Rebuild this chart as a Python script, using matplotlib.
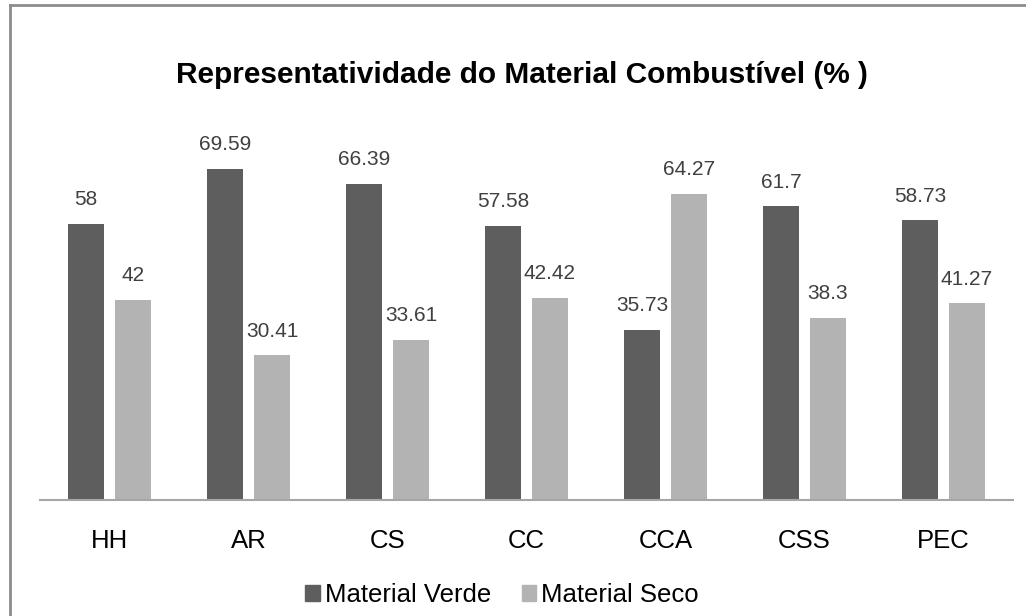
import matplotlib.pyplot as plt
import numpy as np
from matplotlib.lines import Line2D
from matplotlib.patches import Patch

plt.rcParams["font.family"] = ["Liberation Sans", "DejaVu Sans"]

categories = ["HH", "AR", "CS", "CC", "CCA", "CSS", "PEC"]
verde = [58, 69.59, 66.39, 57.58, 35.73, 61.7, 58.73]
seco = [42, 30.41, 33.61, 42.42, 64.27, 38.3, 41.27]
verde_labels = ["58", "69.59", "66.39", "57.58", "35.73", "61.7", "58.73"]
seco_labels = ["42", "30.41", "33.61", "42.42", "64.27", "38.3", "41.27"]

DARK = "#5e5e5e"
LIGHT = "#b3b3b3"

fig = plt.figure(figsize=(10.26, 6.16), dpi=100)
ax = fig.add_axes([40 / 1026, 116 / 616, 973 / 1026, 381 / 616])

x = np.arange(len(categories))
w = 0.266
off = 0.169
b1 = ax.bar(x - off, verde, w, color=DARK)
b2 = ax.bar(x + off, seco, w, color=LIGHT)

for bars, labels in ((b1, verde_labels), (b2, seco_labels)):
    for rect, lab in zip(bars, labels):
        ax.annotate(lab, (rect.get_x() + rect.get_width() / 2, rect.get_height()),
                    xytext=(0, 10.5), textcoords="offset points",
                    ha="center", va="bottom", fontsize=15, color="#404040")

ax.set_xlim(-0.5, len(categories) - 0.5)
ax.set_ylim(0, 80)
ax.set_xticks(x)
ax.set_xticklabels(categories, fontsize=18.5)
ax.tick_params(axis="x", length=0, pad=21)
ax.set_yticks([])
for s in ["top", "right", "left"]:
    ax.spines[s].set_visible(False)
ax.spines["bottom"].set_color("#a6a6a6")
ax.spines["bottom"].set_linewidth(1.5)

fig.text(522 / 1026, 1 - 75 / 616, "Representatividade do Material Combustível (% )",
         ha="center", va="center", fontsize=21.5, fontweight="bold")

handles = [Patch(color=DARK), Patch(color=LIGHT)]
fig.legend(handles, ["Material Verde", "Material Seco"], loc="center",
           bbox_to_anchor=(502 / 1026, 1 - 595 / 616), ncol=2, frameon=False,
           fontsize=18.5, handlelength=0.55, handleheight=0.55, handletextpad=0.2,
           columnspacing=1.2)

# outer frame: left and top edges only
fig.add_artist(Line2D([10 / 1026, 10 / 1026], [0, 1 - 5 / 616],
                      transform=fig.transFigure, color="#8c8c8c", lw=2))
fig.add_artist(Line2D([10 / 1026, 1], [1 - 5 / 616, 1 - 5 / 616],
                      transform=fig.transFigure, color="#8c8c8c", lw=2))

fig.savefig("out.png", dpi=100)
